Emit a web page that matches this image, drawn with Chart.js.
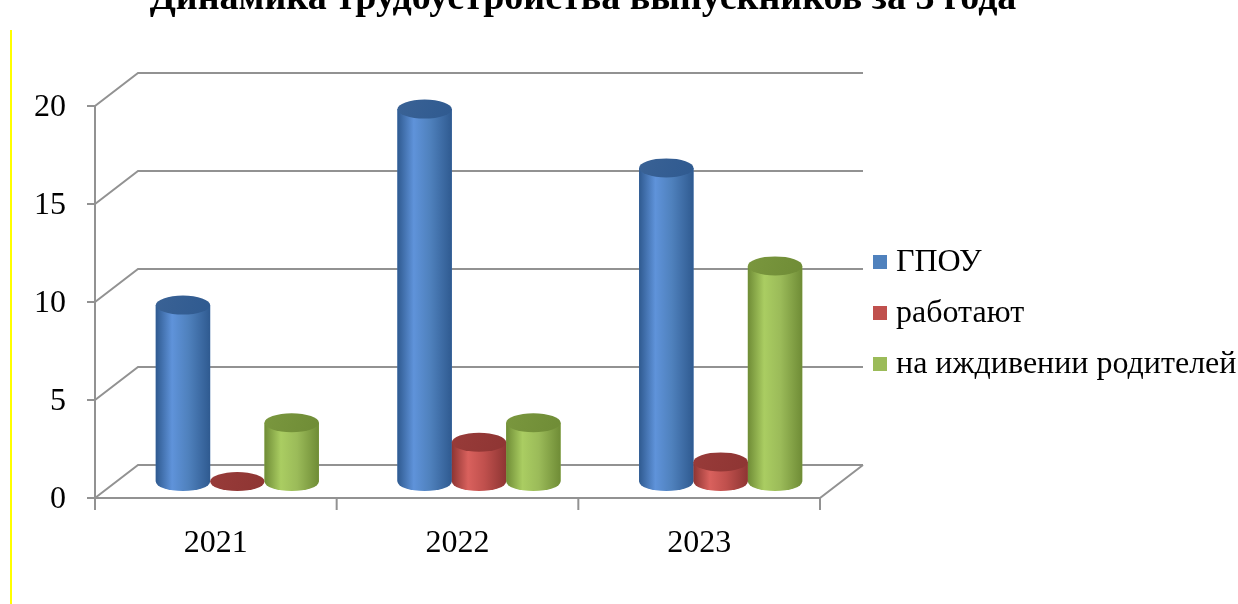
<!DOCTYPE html>
<html>
<head>
<meta charset="utf-8">
<script src="https://cdn.jsdelivr.net/npm/chart.js@4.4.1/dist/chart.umd.min.js"></script>
<style>
  html, body { margin: 0; padding: 0; background: #fff; }
  #wrap { width: 1238px; height: 604px; position: relative; }
</style>
</head>
<body>
<div id="wrap"><canvas id="myChart"></canvas></div>
<script>
const titleText = 'Динамика трудоустройства выпускников за 3 года';
const categories = ['2021', '2022', '2023'];
const seriesNames = ['ГПОУ', 'работают', 'на иждивении родителей'];
const gpou = [9, 19, 16];
const working = [0, 2, 1];
const dependents = [3, 3, 11];
const yTicks = [0, 5, 10, 15, 20];

// colours for each series: [base, light, dark, cap]
const palette = [
    ['#4f81bd', '#5f93da', '#2f5a90', '#3a6295'],
    ['#c0504d', '#d9615d', '#8e3533', '#983b39'],
    ['#9bbb59', '#aacd62', '#6f8c36', '#7a973e']
];

// half depth of the 3d box (bars stand in the middle plane)
const DX = 21.5, DY = 16.5;
const FONT = '"Liberation Serif", "Times New Roman", serif';

function cylinder(ctx, x, top, base, w, col) {
    const rx = w / 2, ry = 9.5;
    const g = ctx.createLinearGradient(x - rx, 0, x + rx, 0);
    g.addColorStop(0, col[2]);
    g.addColorStop(0.3, col[1]);
    g.addColorStop(0.6, col[0]);
    g.addColorStop(1, col[2]);
    if (base - top > 0.5) {
        ctx.beginPath();
        ctx.moveTo(x - rx, top);
        ctx.lineTo(x - rx, base);
        ctx.ellipse(x, base, rx, ry, 0, Math.PI, 0, true);
        ctx.lineTo(x + rx, top);
        ctx.closePath();
        ctx.fillStyle = g;
        ctx.fill();
    }
    const cg = ctx.createLinearGradient(x - rx, top - ry, x + rx, top + ry);
    cg.addColorStop(0, col[3]);
    cg.addColorStop(1, col[2]);
    ctx.beginPath();
    ctx.ellipse(x, top, rx, ry, 0, 0, Math.PI * 2);
    ctx.fillStyle = cg;
    ctx.fill();
}

const box3d = {
    id: 'box3d',
    beforeDatasetsDraw(chart) {
        const ctx = chart.ctx, x = chart.scales.x, y = chart.scales.y;
        const area = chart.chartArea;
        const left = area.left - DX, right = area.right - DX;
        ctx.save();
        ctx.strokeStyle = '#929292';
        ctx.lineWidth = 2;
        // back wall lines + left diagonals
        yTicks.forEach(v => {
            const py = y.getPixelForValue(v);
            ctx.beginPath();
            ctx.moveTo(left, py + DY);
            ctx.lineTo(area.left + DX, py - DY);
            ctx.lineTo(area.right + DX, py - DY);
            ctx.stroke();
        });
        const y0 = y.getPixelForValue(0) + DY;
        // floor front edge and right diagonal
        ctx.beginPath();
        ctx.moveTo(left, y0);
        ctx.lineTo(right, y0);
        ctx.lineTo(area.right + DX, y0 - 2 * DY);
        ctx.stroke();
        // front vertical axis
        ctx.beginPath();
        ctx.moveTo(left, y.getPixelForValue(20) + DY);
        ctx.lineTo(left, y0);
        ctx.stroke();
        // ticks + labels
        ctx.fillStyle = '#000';
        ctx.font = '32px ' + FONT;
        ctx.textAlign = 'right';
        ctx.textBaseline = 'middle';
        yTicks.forEach(v => {
            const py = y.getPixelForValue(v) + DY;
            ctx.beginPath();
            ctx.moveTo(left - 8, py);
            ctx.lineTo(left, py);
            ctx.stroke();
            ctx.fillText(String(v), left - 29, py + 2);
        });
        const cw = (right - left) / categories.length;
        for (let i = 0; i <= categories.length; i++) {
            const px = left + i * cw;
            ctx.beginPath();
            ctx.moveTo(px, y0);
            ctx.lineTo(px, y0 + 12);
            ctx.stroke();
        }
        ctx.textAlign = 'center';
        categories.forEach((c, i) => {
            ctx.fillText(c, x.getPixelForValue(i) - DX, y0 + 46);
        });
        ctx.restore();
    },
    afterDatasetsDraw(chart) {
        const ctx = chart.ctx;
        ctx.save();
        chart.data.datasets.forEach((ds, di) => {
            chart.getDatasetMeta(di).data.forEach(bar => {
                const p = bar.getProps(['x', 'y', 'base', 'width'], true);
                cylinder(ctx, p.x, p.y, p.base, p.width, palette[di]);
            });
        });
        ctx.restore();
    },
    afterDraw(chart) {
        const ctx = chart.ctx;
        ctx.save();
        // title (clipped at the top like the original)
        ctx.fillStyle = '#000';
        ctx.font = 'bold 38px ' + FONT;
        ctx.textAlign = 'center';
        ctx.textBaseline = 'alphabetic';
        ctx.fillText(titleText, 583, 9);
        // legend
        ctx.font = '32px ' + FONT;
        ctx.textAlign = 'left';
        ctx.textBaseline = 'middle';
        const rows = [262, 313, 364];
        chart.data.datasets.forEach((ds, i) => {
            ctx.fillStyle = palette[i][0];
            ctx.fillRect(873, rows[i] - 7, 14, 14);
            ctx.fillStyle = '#000';
            ctx.fillText(ds.label, 896, rows[i] + 1);
        });
        // yellow frame line on the left
        ctx.strokeStyle = '#ffff00';
        ctx.lineWidth = 2;
        ctx.beginPath();
        ctx.moveTo(11, 30);
        ctx.lineTo(11, 604);
        ctx.stroke();
        ctx.restore();
    }
};

const ctx = document.getElementById('myChart').getContext('2d');
const myChart = new Chart(ctx, {
    type: 'bar',
    data: {
        labels: categories,
        datasets: [
            { label: seriesNames[0], data: gpou, backgroundColor: palette[0][0] },
            { label: seriesNames[1], data: working, backgroundColor: palette[1][0] },
            { label: seriesNames[2], data: dependents, backgroundColor: palette[2][0] }
        ]
    },
    options: {
        responsive: true,
        maintainAspectRatio: false,
        animation: false,
        layout: { padding: { left: 116.5, right: 396.5, top: 89.5, bottom: 122.5 } },
        datasets: { bar: { categoryPercentage: 0.675, barPercentage: 1, borderWidth: 0 } },
        scales: {
            x: { display: false },
            y: { display: false, min: 0, max: 20 }
        },
        plugins: {
            legend: { display: false },
            tooltip: { enabled: false }
        }
    },
    plugins: [box3d]
});
</script>
</body>
</html>
